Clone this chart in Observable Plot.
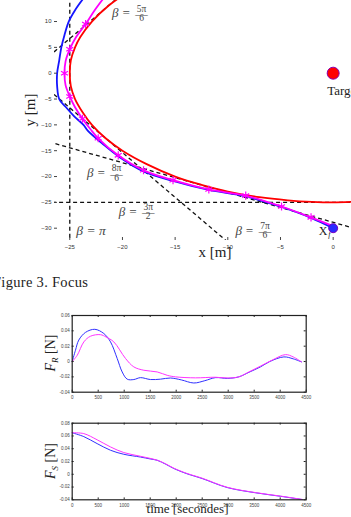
<!DOCTYPE html>
<html>
<head>
<meta charset="utf-8">
<script src="https://cdn.jsdelivr.net/npm/d3@7"></script>
<script src="https://cdn.jsdelivr.net/npm/@observablehq/plot@0.6"></script>
<style>
  html, body { margin: 0; padding: 0; background: #fff; }
  body { width: 351px; height: 517px; overflow: hidden; position: relative; }
  .panel { position: absolute; left: 0; }
  #labels { position: absolute; left: 0; top: 0; pointer-events: none; }
  #labels text { font-family: "Liberation Serif", "DejaVu Serif", serif; fill: #222; }
</style>
</head>
<body>
<div id="traj" class="panel" style="top:0"></div>
<div id="fr" class="panel" style="top:300px"></div>
<div id="fs" class="panel" style="top:405px"></div>
<svg id="labels" width="351" height="517">
  <text transform="translate(35,110) rotate(-90)" text-anchor="middle" font-size="15">y [m]</text>
  <text x="215" y="257" text-anchor="middle" font-size="15">x [m]</text>
  <text x="-7" y="287.3" font-size="14.5" letter-spacing="0.3">Figure 3. Focus</text>
  <text transform="translate(55,353) rotate(-90)" text-anchor="middle" font-size="14"><tspan font-style="italic">F</tspan><tspan font-style="italic" font-size="9" dy="3">R</tspan><tspan dy="-3"> [N]</tspan></text>
  <text transform="translate(55,461) rotate(-90)" text-anchor="middle" font-size="14"><tspan font-style="italic">F</tspan><tspan font-style="italic" font-size="9" dy="3">S</tspan><tspan dy="-3"> [N]</tspan></text>
  <text x="187.5" y="513" text-anchor="middle" font-size="13">time [secondes]</text>
</svg>
<script>
// ---------- Trajectory panel (metres) ----------
const xTicksTraj = [-25, -20, -15, -10, -5, 0];
const yTicksTraj = [-30, -25, -20, -15, -10, -5, 0, 5, 10];

// red path: arc of radius 25 around the target
const redX = [-20.0, -21.3, -22.9, -24.0, -24.5, -24.9, -25.0, -24.9, -24.5, -23.8, -22.9, -21.6, -20.0, -17.7, -15.0, -12.5, -10.0, -7.0, -4.3, -2.0, 0.0, 1.8];
const redY = [15.0, 13.1, 10.0, 7.0, 5.0, 2.5, 0.0, -2.5, -5.0, -7.5, -10.0, -12.6, -15.0, -17.6, -20.0, -21.6, -22.9, -24.0, -24.6, -24.9, -25.0, -24.9];

// blue path, ending at X_f
const blueX = [-23.7, -24.5, -25.1, -25.5, -25.8, -26.0, -26.2, -26.2, -26.0, -25.4, -24.6, -23.7, -23.3, -21.8, -20.3, -18.0, -15.2, -11.8, -8.3, -4.9, -2.1, 0.0];
const blueY = [14.5, 12.2, 10.0, 7.4, 5.0, 2.5, 0.0, -2.5, -5.0, -6.5, -8.3, -10.0, -11.1, -13.8, -16.2, -19.0, -20.85, -22.6, -23.85, -25.9, -28.0, -30.0];

// magenta path
const magX = [-21.8, -22.7, -23.5, -24.4, -25.0, -25.4, -25.5, -25.4, -25.0, -24.5, -23.8, -23.05, -22.3, -20.4, -18.0, -15.2, -11.8, -8.3, -4.9, -2.1, 0.0];
const magY = [14.5, 12.0, 9.5, 7.0, 4.65, 2.3, 0.0, -2.3, -4.5, -6.6, -8.8, -10.8, -12.6, -15.9, -18.8, -20.7, -22.5, -23.7, -25.8, -27.9, -29.6];

// markers along the magenta path
const markX = [-23.5, -25.0, -25.5, -25.0, -23.8, -22.3, -20.4, -18.0, -15.2, -11.8, -8.3, -4.9, -2.1];
const markY = [9.5, 4.65, 0.0, -4.5, -8.8, -12.6, -15.9, -18.8, -20.7, -22.5, -23.7, -25.8, -27.9];

// tangent lines (dashed), one per beta, given by two end points
const tanX1 = [-25, -30, -27, -27, -27];
const tanY1 = [-40, -25, 3.24, -13.28, -3.24];
const tanX2 = [-25, 5, -20, 2, -9];
const tanY2 = [20, -25, 15.36, -30.02, -34.41];

// beta annotations
const betaFracNum = ["5π", "8π", "3π", "7π"];
const betaFracDen = ["6", "6", "2", "6"];
const betaFracX = [-20.99, -23.36, -20.36, -9.28];
const betaFracY = [11.63, -19.26, -26.76, -30.44];
const betaPlainText = ["β = π"];
const betaPlainX = [-24.38];
const betaPlainY = [-30.44];

const target = [{x: 0, y: 0}];
const finalPoint = [{x: 0, y: -30}];

const zipXY = (xs, ys) => xs.map((x, i) => ({x, y: ys[i]}));
const redPath = zipXY(redX, redY);
const bluePath = zipXY(blueX, blueY);
const magPath = zipXY(magX, magY);
const markers = zipXY(markX, markY);
const tangents = tanX1.map((x1, i) => ({x1, y1: tanY1[i], x2: tanX2[i], y2: tanY2[i]}));
const betaFrac = betaFracNum.map((num, i) => ({num, den: betaFracDen[i], x: betaFracX[i], y: betaFracY[i]}));
const betaPlain = betaPlainText.map((t, i) => ({t, x: betaPlainX[i], y: betaPlainY[i]}));

const serif = "Liberation Serif, DejaVu Serif, serif";
const annColor = "#444";
const trajFrameW = 351 - 54, trajFrameH = 240;

const traj = Plot.plot({
  width: 351, height: 270,
  marginLeft: 54, marginRight: 0, marginTop: 0, marginBottom: 30,
  x: {domain: [-26.45, 1.74]},
  y: {domain: [-32.38, 14.07]},
  style: {fontFamily: "Liberation Sans, Arial, sans-serif", fontSize: "6px", color: "#333", background: "transparent", overflow: "visible"},
  marks: [
    Plot.link(tangents, {x1: "x1", y1: "y1", x2: "x2", y2: "y2", stroke: "#111", strokeWidth: 1.3, strokeDasharray: "4,3", clip: true}),
    Plot.line(bluePath, {x: "x", y: "y", stroke: "#1515ff", strokeWidth: 1.8, curve: "catmull-rom", clip: true}),
    Plot.line(redPath, {x: "x", y: "y", stroke: "#ff0000", strokeWidth: 1.8, curve: "catmull-rom", clip: true}),
    Plot.line(magPath, {x: "x", y: "y", stroke: "#ff00ff", strokeWidth: 1.8, curve: "catmull-rom", clip: true}),
    Plot.dot(markers, {x: "x", y: "y", symbol: "asterisk", r: 3.8, stroke: "#ff00ff", strokeWidth: 1.2}),
    // beta labels
    Plot.text(betaFrac, {x: "x", y: "y", text: () => "β =", textAnchor: "start", lineAnchor: "middle", fontSize: 13, fontStyle: "italic", fontFamily: serif, fill: annColor}),
    Plot.text(betaFrac, {x: "x", y: "y", text: "num", dx: 29.5, dy: -4.6, textAnchor: "middle", lineAnchor: "middle", fontSize: 9.5, fontFamily: serif, fill: annColor}),
    Plot.text(betaFrac, {x: "x", y: "y", text: "den", dx: 29.5, dy: 4.8, textAnchor: "middle", lineAnchor: "middle", fontSize: 9.5, fontFamily: serif, fill: annColor}),
    Plot.text(betaFrac, {x: "x", y: "y", text: () => "—", dx: 29.5, dy: 0.8, textAnchor: "middle", lineAnchor: "middle", fontSize: 12.5, fontFamily: serif, fill: annColor}),
    Plot.text(betaPlain, {x: "x", y: "y", text: "t", textAnchor: "start", lineAnchor: "middle", fontSize: 13.5, fontStyle: "italic", fontFamily: serif, fill: annColor}),
    // end point and target
    Plot.text(finalPoint, {x: "x", y: "y", text: () => "X", dx: -14.4, dy: 3, textAnchor: "start", lineAnchor: "middle", fontSize: 12, fontFamily: serif, fill: "#222"}),
    Plot.text(finalPoint, {x: "x", y: "y", text: () => "f", dx: -5, dy: 6, textAnchor: "start", lineAnchor: "middle", fontSize: 8, fontStyle: "italic", fontFamily: serif, fill: "#222"}),
    Plot.dot(finalPoint, {x: "x", y: "y", r: 4.5, fill: "#2a2aff", stroke: "#7a00c0", strokeWidth: 1}),
    Plot.dot(target, {x: "x", y: "y", r: 6, fill: "#ff0000", stroke: "#8a00b0", strokeWidth: 1}),
    Plot.text(target, {x: "x", y: "y", text: () => "Target", dx: -6, dy: 18, textAnchor: "start", lineAnchor: "middle", fontSize: 13, fontFamily: serif, fill: "#222"}),
    // axes: left and bottom lines, inward ticks
    Plot.axisX(xTicksTraj, {tickSize: 0, tickPadding: 4, label: null, line: true, stroke: "#444"}),
    Plot.axisY(yTicksTraj, {tickSize: 0, tickPadding: 3, label: null, line: true, stroke: "#444"}),
    Plot.tickX(xTicksTraj, {x: d => d, insetTop: trajFrameH - 3, stroke: "#444"}),
    Plot.tickY(yTicksTraj, {y: d => d, insetRight: trajFrameW - 3, stroke: "#444"})
  ]
});
document.getElementById("traj").append(traj);

// ---------- Force panels (N versus seconds) ----------
const timeTicks = [0, 500, 1000, 1500, 2000, 2500, 3000, 3500, 4000, 4500];
const timeTickLabels = ["0", "500", "1000", "1500", "2000", "2500", "3000", "3500", "4000", "4500"];

const frTicks = [-0.04, -0.02, 0, 0.02, 0.04, 0.06];
const frTickLabels = ["-0.04", "-0.02", "0", "0.02", "0.04", "0.06"];
const fsTicks = [-0.04, -0.02, 0, 0.02, 0.04, 0.06, 0.08];
const fsTickLabels = ["-0.04", "-0.02", "0", "0.02", "0.04", "0.06", "0.08"];

const frBlueT = [0, 63, 127, 256, 435, 608, 737, 865, 961, 1058, 1185, 1313, 1506, 1698, 1890, 2100, 2339, 2550, 2756, 2981, 3204, 3400, 3621, 3800, 4070, 4250, 4410];
const frBlueV = [0, 0.0147, 0.028, 0.038, 0.042, 0.0365, 0.0256, 0.004, -0.0136, -0.023, -0.0235, -0.021, -0.0235, -0.023, -0.0215, -0.024, -0.028, -0.025, -0.021, -0.022, -0.020, -0.014, -0.007, 0.0, 0.006, 0.0035, -0.0005];

const frMagT = [0, 96, 224, 352, 544, 650, 800, 1025, 1185, 1378, 1635, 1827, 1987, 2371, 2756, 3000, 3204, 3400, 3621, 3850, 4102, 4250, 4410];
const frMagV = [0, 0.008, 0.0256, 0.033, 0.035, 0.032, 0.0256, 0.004, -0.007, -0.0114, -0.0136, -0.018, -0.020, -0.0213, -0.0205, -0.0215, -0.020, -0.0135, -0.006, 0.002, 0.009, 0.006, -0.0005];

const fsBlueT = [0, 223, 480, 737, 993, 1313, 1500, 1635, 1800, 1955, 2200, 2500, 2981, 3525, 4006, 4423];
const fsBlueV = [0.065, 0.059, 0.048, 0.0376, 0.0313, 0.027, 0.024, 0.0219, 0.0157, 0.009, 0.001, -0.0067, -0.0208, -0.029, -0.0345, -0.0396];

const fsMagT = [0, 223, 480, 737, 993, 1313, 1635, 1800, 1955, 2200, 2500, 2981, 3525, 4006, 4423];
const fsMagV = [0.065, 0.0637, 0.054, 0.0428, 0.034, 0.0282, 0.022, 0.0162, 0.0095, 0.0015, -0.0062, -0.0204, -0.0287, -0.0342, -0.0394];

const zipTV = (ts, vs) => ts.map((t, i) => ({t, v: vs[i]}));

const frameW = 234, frameH = 76.7;

function forcePlot({height, marginTop, marginBottom, yDomain, yTicks, yTickLabels, blue, magenta}) {
  return Plot.plot({
    width: 351, height,
    marginLeft: 71.7, marginRight: 45.3, marginTop, marginBottom,
    x: {domain: [0, 4500]},
    y: {domain: yDomain},
    style: {fontFamily: "Liberation Sans, Arial, sans-serif", fontSize: "4.5px", color: "#444", background: "transparent", overflow: "visible"},
    marks: [
      Plot.line(blue, {x: "t", y: "v", stroke: "#3030ff", strokeWidth: 1, curve: "catmull-rom"}),
      Plot.line(magenta, {x: "t", y: "v", stroke: "#ff33ff", strokeWidth: 1, curve: "catmull-rom"}),
      Plot.frame({stroke: "#222", strokeWidth: 1.2}),
      Plot.axisX(timeTicks, {tickSize: 0, tickPadding: 3.5, label: null, tickFormat: (d, i) => timeTickLabels[i]}),
      Plot.axisY(yTicks, {tickSize: 0, tickPadding: 2.5, label: null, tickFormat: (d, i) => yTickLabels[i]}),
      Plot.tickX(timeTicks, {x: d => d, insetTop: frameH - 2, stroke: "#222"}),
      Plot.tickX(timeTicks, {x: d => d, insetBottom: frameH - 2, stroke: "#222"}),
      Plot.tickY(yTicks, {y: d => d, insetRight: frameW - 2, stroke: "#222"}),
      Plot.tickY(yTicks, {y: d => d, insetLeft: frameW - 2, stroke: "#222"})
    ]
  });
}

document.getElementById("fr").append(forcePlot({
  height: 105, marginTop: 15, marginBottom: 13.3,
  yDomain: [-0.04, 0.06], yTicks: frTicks, yTickLabels: frTickLabels,
  blue: zipTV(frBlueT, frBlueV), magenta: zipTV(frMagT, frMagV)
}));

document.getElementById("fs").append(forcePlot({
  height: 112, marginTop: 17.7, marginBottom: 17.7,
  yDomain: [-0.04, 0.08], yTicks: fsTicks, yTickLabels: fsTickLabels,
  blue: zipTV(fsBlueT, fsBlueV), magenta: zipTV(fsMagT, fsMagV)
}));
</script>
</body>
</html>
